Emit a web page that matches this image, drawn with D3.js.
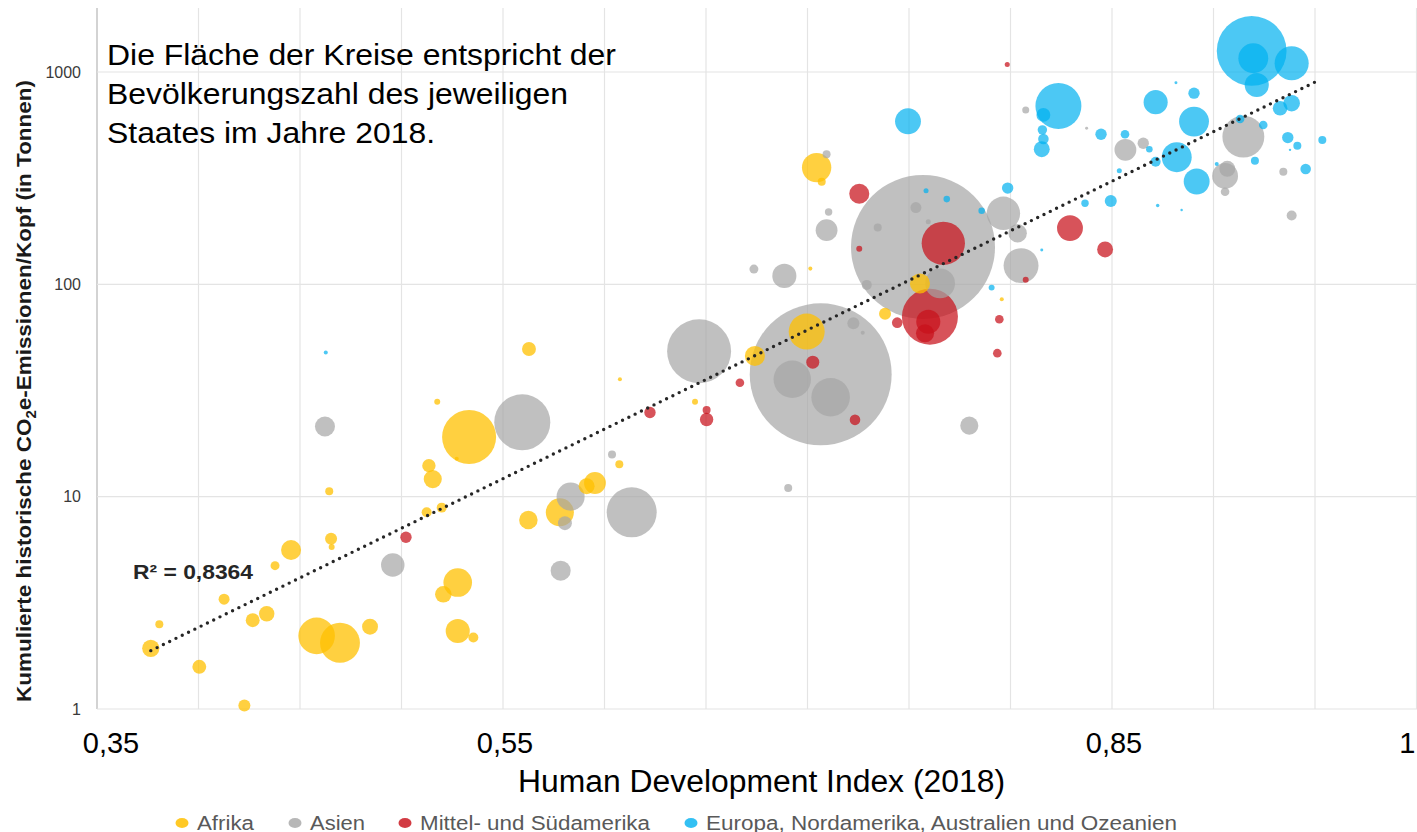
<!DOCTYPE html>
<html>
<head>
<meta charset="utf-8">
<script src="https://cdn.jsdelivr.net/npm/d3@7"></script>
<style>
  html, body { margin: 0; padding: 0; background: #fff; }
  svg { display: block; font-family: "Liberation Sans", Arial, sans-serif; }
</style>
</head>
<body>
<svg id="chart" width="1417" height="832"></svg>
<script>
// ---------------- DATA ----------------
const categories = ["Afrika", "Asien", "Mittel- und Südamerika", "Europa, Nordamerika, Australien und Ozeanien"];

// [HDI 2018, cumulative CO2e per capita (t), population (millions)]
const afrika = [
  [0.3765, 1.93, 20], [0.3807, 2.51, 4.3], [0.4004, 1.58, 13], [0.4126, 3.29, 8.1],
  [0.4226, 1.04, 9.7], [0.4267, 2.62, 13], [0.4336, 2.81, 16], [0.4377, 4.73, 5.4],
  [0.4456, 5.61, 27], [0.4582, 2.21, 90], [0.4653, 6.34, 9.7], [0.4656, 5.8, 2.4],
  [0.4644, 10.6, 4.3], [0.4697, 2.05, 107], [0.4845, 2.44, 17], [0.5124, 8.44, 6.7],
  [0.5135, 14.0, 12], [0.5154, 12.1, 22], [0.5176, 28.0, 2.4], [0.5198, 8.88, 6.7],
  [0.5206, 3.47, 18.5], [0.5272, 15.1, 1.1], [0.5277, 3.94, 55], [0.5277, 2.33, 39],
  [0.5333, 19.1, 196], [0.5354, 2.17, 6.7], [0.5625, 7.77, 23], [0.5628, 49.6, 13],
  [0.578, 8.44, 53], [0.5912, 11.2, 17], [0.5953, 11.6, 32], [0.6073, 14.2, 4.3],
  [0.6076, 35.7, 1.1], [0.6446, 28.0, 2.4], [0.6741, 46, 27], [0.6996, 59.9, 87],
  [0.7014, 118.6, 1.1], [0.7045, 354.6, 58], [0.707, 304, 4.3], [0.7382, 72.6, 9.7],
  [0.7554, 101, 27], [0.7957, 85.1, 1.1]
];

const asien = [
  [0.4623, 21.4, 27], [0.4957, 4.77, 37], [0.5595, 22.4, 211], [0.5784, 4.48, 27],
  [0.5805, 7.5, 13], [0.5833, 10, 53], [0.6037, 15.8, 4.3], [0.6134, 8.44, 168],
  [0.6466, 48.4, 275], [0.6736, 118, 5.4], [0.6886, 109.6, 39], [0.6905, 11.0, 4.3],
  [0.6925, 35.7, 94], [0.7065, 37.7, 1353], [0.7114, 29.4, 100], [0.7094, 410, 4.3],
  [0.7104, 219, 3.7], [0.7094, 180, 32], [0.7226, 65.6, 9.7], [0.7272, 59.2, 1.1],
  [0.7292, 99.4, 6.7], [0.7346, 185, 4.3], [0.7534, 230, 8.1], [0.7569, 150, 1393],
  [0.7595, 197, 1.7], [0.7653, 101, 60], [0.7797, 21.6, 22], [0.7965, 216, 75],
  [0.8035, 174, 23], [0.8052, 122.5, 82], [0.8075, 663, 3.3], [0.8375, 544, 0.6],
  [0.8566, 430, 32], [0.8654, 462, 8.7], [0.9057, 324, 45], [0.9068, 350, 17],
  [0.9057, 273, 5], [0.9147, 496, 118], [0.9344, 339, 4.3], [0.9385, 211, 6.7]
];

const lateinamerika = [
  [0.5022, 6.44, 8.7], [0.6224, 24.9, 8.7], [0.6503, 25.6, 4.3], [0.6503, 23.1, 12],
  [0.6667, 34.4, 5], [0.7026, 43, 11.4], [0.7234, 23, 7.5], [0.7255, 267, 27],
  [0.7255, 147, 2.4], [0.7442, 66, 7.5], [0.7603, 70.4, 211], [0.7595, 66.7, 39],
  [0.7579, 58.8, 22], [0.7669, 156, 126], [0.7935, 47.4, 5], [0.7945, 68.5, 5],
  [0.7984, 1084, 1.7], [0.8075, 105, 2.4], [0.8293, 184, 45], [0.8466, 146, 17]
];

const europa = [
  [0.4627, 47.7, 1.1], [0.7495, 586, 45], [0.7584, 276, 1.7], [0.7686, 252, 2.9],
  [0.7858, 222, 2.9], [0.7907, 96.5, 2.4], [0.7986, 284, 8.7], [0.8154, 145, 0.6],
  [0.8236, 692, 142], [0.8162, 628, 13], [0.8157, 534, 6], [0.8162, 484, 7.5],
  [0.8154, 433, 17], [0.8367, 241, 3.7], [0.8446, 509, 8.7], [0.8494, 247, 9.7],
  [0.8536, 343, 1.7], [0.8564, 509, 5], [0.8684, 433, 2.9], [0.8715, 721, 39],
  [0.8715, 378, 6.7], [0.8725, 235, 0.8], [0.8815, 891, 0.6], [0.8819, 397, 60],
  [0.8843, 224, 0.4], [0.8904, 795, 8.7], [0.8904, 584, 60], [0.8917, 305, 45],
  [0.9016, 369, 1.1], [0.9131, 601, 5], [0.9188, 1257, 327], [0.9196, 1161, 60],
  [0.9213, 869, 39], [0.9204, 382, 4.3], [0.9245, 563, 5], [0.9328, 675, 14.3],
  [0.9366, 491, 8.7], [0.9377, 430, 0.3], [0.9385, 1100, 78], [0.9385, 713, 18.5],
  [0.9413, 449, 4.3], [0.9454, 349, 7.5], [0.9536, 479, 4.3]
];

// exponential trend: log10(CO2) = slope * HDI + intercept
const trendCoef = [4.669, -1.4831];
const trendRange = [0.3765, 0.9505];
const rSquaredLabel = "R² = 0,8364";

const xTickValues = [0.35, 0.55, 0.85, 1];
const xTickLabels = ["0,35", "0,55", "0,85", "1"];
const xGridValues = d3.range(0, 14).map(i => +(0.35 + i * 0.05).toFixed(2));
const yTickValues = [1, 10, 100, 1000];
const yTickLabels = ["1", "10", "100", "1000"];

const titleLines = ["Die Fläche der Kreise entspricht der", "Bevölkerungszahl des jeweiligen", "Staates im Jahre 2018."];

// ---------------- STYLE ----------------
const colors = ["#FFC000", "#A5A5A5", "#C8101A", "#00B0F0"];
const opacities = [0.75, 0.7, 0.72, 0.7];

// ---------------- SCALES ----------------
const svg = d3.select("#chart");
const x = d3.scaleLinear().domain([0.35, 1.0]).range([97, 1416.5]);
const y = d3.scaleLog().domain([1, 1000]).range([709, 72]);
const r = d3.scaleSqrt().domain([0, 1393]).range([0, 72]);
const yTop = y(2000);

// grid
const grid = svg.append("g");
grid.selectAll("line.v").data(xGridValues).join("line")
  .attr("x1", d => x(d)).attr("x2", d => x(d))
  .attr("y1", yTop).attr("y2", y(1))
  .attr("stroke", (d, i) => i === 0 ? "#c4c4c4" : "#e4e4e4")
  .attr("stroke-width", (d, i) => i === 0 ? 1.5 : 1.2);
grid.selectAll("line.h").data(yTickValues).join("line")
  .attr("x1", x(0.35)).attr("x2", 1417)
  .attr("y1", d => y(d)).attr("y2", d => y(d))
  .attr("stroke", "#e4e4e4").attr("stroke-width", 1.2);

// y tick labels
svg.append("g").selectAll("text").data(yTickValues).join("text")
  .attr("x", 81).attr("y", d => y(d)).attr("dy", "0.36em")
  .attr("text-anchor", "end").attr("font-size", 16).attr("fill", "#3a3a3a")
  .text((d, i) => yTickLabels[i]);

// bubbles
const series = [afrika, asien, lateinamerika, europa];
const points = [];
series.forEach((arr, ci) => arr.forEach(d => points.push({ hdi: d[0], co2: d[1], pop: d[2], c: ci })));
points.sort((a, b) => b.pop - a.pop);
svg.append("g").selectAll("circle").data(points).join("circle")
  .attr("cx", d => x(d.hdi)).attr("cy", d => y(d.co2))
  .attr("r", d => Math.max(1.2, r(d.pop)))
  .attr("fill", d => colors[d.c]).attr("fill-opacity", d => opacities[d.c]);

// trend line
const trendData = trendRange.map(h => ({ hdi: h, co2: Math.pow(10, trendCoef[0] * h + trendCoef[1]) }));
svg.append("path").datum(trendData)
  .attr("d", d3.line().x(d => x(d.hdi)).y(d => y(d.co2)))
  .attr("fill", "none").attr("stroke", "#262626").attr("stroke-width", 3.4)
  .attr("stroke-linecap", "round").attr("stroke-dasharray", "0,7");

// R² label
svg.append("text").attr("x", 133).attr("y", 579)
  .attr("font-size", 20).attr("font-weight", "bold").attr("fill", "#262626")
  .attr("textLength", 120).attr("lengthAdjust", "spacingAndGlyphs")
  .text(rSquaredLabel);

// title annotation
const titleWidths = [509, 461, 328];
svg.append("g").selectAll("text").data(titleLines).join("text")
  .attr("x", 107).attr("y", (d, i) => 65 + i * 39)
  .attr("font-size", 29).attr("fill", "#000")
  .attr("textLength", (d, i) => titleWidths[i]).attr("lengthAdjust", "spacingAndGlyphs")
  .text(d => d);

// x tick labels
svg.append("g").selectAll("text").data(xTickValues).join("text")
  .attr("x", (d, i) => i === 3 ? x(d) - 1 : x(d) + (i === 0 ? 14 : 2))
  .attr("y", 753).attr("text-anchor", (d, i) => i === 3 ? "end" : "middle")
  .attr("font-size", 29).attr("fill", "#000")
  .text((d, i) => xTickLabels[i]);

// x axis title
svg.append("text").attr("x", 761.5).attr("y", 792).attr("text-anchor", "middle")
  .attr("font-size", 31).attr("fill", "#000")
  .attr("textLength", 487).attr("lengthAdjust", "spacingAndGlyphs")
  .text("Human Development Index (2018)");

// y axis title
const yt = svg.append("text")
  .attr("transform", "translate(31,391) rotate(-90)")
  .attr("text-anchor", "middle").attr("font-size", 21).attr("font-weight", "bold").attr("fill", "#1a1a1a")
  .attr("textLength", 622).attr("lengthAdjust", "spacingAndGlyphs");
yt.append("tspan").text("Kumulierte historische CO");
yt.append("tspan").attr("font-size", 14).attr("dy", 5).text("2");
yt.append("tspan").attr("dy", -5).text("e-Emissionen/Kopf (in Tonnen)");

// legend
const legendDotX = [182, 295, 405, 691];
const legendWidths = [57, 55, 230, 471];
const lg = svg.append("g").selectAll("g").data(categories).join("g");
lg.append("ellipse")
  .attr("cx", (d, i) => legendDotX[i]).attr("cy", 823)
  .attr("rx", 6.5).attr("ry", 5)
  .attr("fill", (d, i) => colors[i]).attr("fill-opacity", (d, i) => opacities[i] + 0.1);
lg.append("text")
  .attr("x", (d, i) => legendDotX[i] + 15).attr("y", 829.5)
  .attr("font-size", 20).attr("fill", "#595959")
  .attr("textLength", (d, i) => legendWidths[i]).attr("lengthAdjust", "spacingAndGlyphs")
  .text(d => d);
</script>
</body>
</html>
